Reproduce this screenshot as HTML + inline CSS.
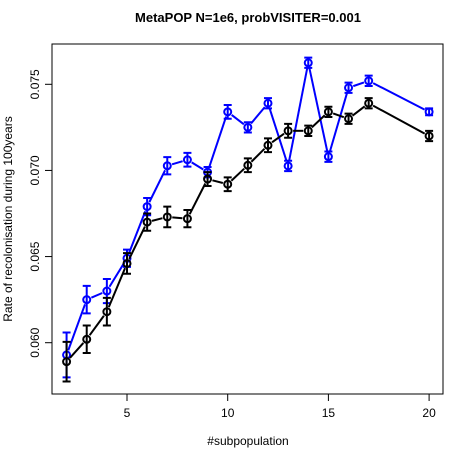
<!DOCTYPE html>
<html><head><meta charset="utf-8"><style>
body{margin:0;background:#fff}
svg{display:block;font-family:"Liberation Sans",Arial,sans-serif}
</style></head><body>
<svg id="chart" width="470" height="455">
<text x="248" y="22" text-anchor="middle" font-size="13" font-weight="bold">MetaPOP N=1e6, probVISITER=0.001</text>
<rect x="52" y="44" width="391" height="350" fill="none" stroke="#000" stroke-width="1"/>
<text x="248" y="445" text-anchor="middle" font-size="12">#subpopulation</text>
<text transform="translate(12,219) rotate(-90)" text-anchor="middle" font-size="12">Rate of recolonisation during 100years</text>
<g id="axes"></g><g id="series"></g>
</svg>
<script>
const xs=[2,3,4,5,6,7,8,9,10,11,12,13,14,15,16,17,20];
const blueVals=[0.05929,0.0625,0.0630,0.0649,0.0679,0.07027,0.07062,0.0699,0.0734,0.0725,0.0739,0.07026,0.07625,0.0708,0.0748,0.0752,0.0734];
const blueErr=[0.0013,0.0008,0.0007,0.0005,0.0005,0.0005,0.0004,0.0003,0.0004,0.0003,0.0003,0.0003,0.0003,0.0003,0.0003,0.0003,0.0002];
const blackVals=[0.0589,0.0602,0.0618,0.0646,0.0670,0.0673,0.0672,0.0695,0.0692,0.0703,0.07146,0.0723,0.0723,0.0734,0.0730,0.0739,0.0720];
const blackErr=[0.00115,0.0008,0.0008,0.0006,0.0005,0.0006,0.0005,0.0004,0.0004,0.0004,0.0004,0.0004,0.0003,0.0003,0.0003,0.0003,0.0003];
const xTicks=[5,10,15,20];
const yTicks=[0.060,0.065,0.070,0.075];
const yTickLabels=["0.060","0.065","0.070","0.075"];
const NS="http://www.w3.org/2000/svg";
function X(v){return 127+(v-5)*20.14;}
function Y(v){return 84.3+(0.075-v)*17227;}
function mk(t,a,p){const e=document.createElementNS(NS,t);for(const k in a)e.setAttribute(k,a[k]);p.appendChild(e);return e;}
const axes=document.getElementById('axes');
xTicks.forEach(t=>{
 const l=mk('line',{x1:X(t),x2:X(t),y1:394,y2:401,stroke:'#000'},axes);
 
 
 const tx=mk('text',{x:X(t),y:417,'text-anchor':'middle','font-size':12},axes);tx.textContent=t;
 
 
});
yTicks.forEach((t,i)=>{
 const l=mk('line',{x1:45,x2:52,y1:Y(t),y2:Y(t),stroke:'#000'},axes);
 
 
 const tx=mk('text',{transform:`translate(39,${Y(t)}) rotate(-90)`,'text-anchor':'middle','font-size':12},axes);tx.textContent=yTickLabels[i];
 
 
});
const sg=document.getElementById('series');
function draw(vals,errs,col,name){
 const g=mk('g',{},sg);
 
 
 for(let i=0;i<xs.length-1;i++){
  const x1=X(xs[i]),y1=Y(vals[i]),x2=X(xs[i+1]),y2=Y(vals[i+1]);
  const d=Math.hypot(x2-x1,y2-y1),r=5;if(d<2*r)continue;
  const ux=(x2-x1)/d,uy=(y2-y1)/d;
  const l=mk('line',{x1:x1+ux*r,y1:y1+uy*r,x2:x2-ux*r,y2:y2-uy*r,stroke:col,'stroke-width':2},g);
  
  
 }
 xs.forEach((x,i)=>{
  const cx=X(x),t=Y(vals[i]+errs[i]),b=Y(vals[i]-errs[i]);
  const e=mk('path',{d:`M${cx},${t}V${b}M${cx-4},${t}H${cx+4}M${cx-4},${b}H${cx+4}`,stroke:col,'stroke-width':2,fill:'none'},g);
  
  
  const c=mk('circle',{cx:cx,cy:Y(vals[i]),r:3.5,stroke:col,'stroke-width':2,fill:'none'},g);
  
  
 });
}
draw(blueVals,blueErr,'#0000ff','blue-series');
draw(blackVals,blackErr,'#000','black-series');
</script>
</body></html>
